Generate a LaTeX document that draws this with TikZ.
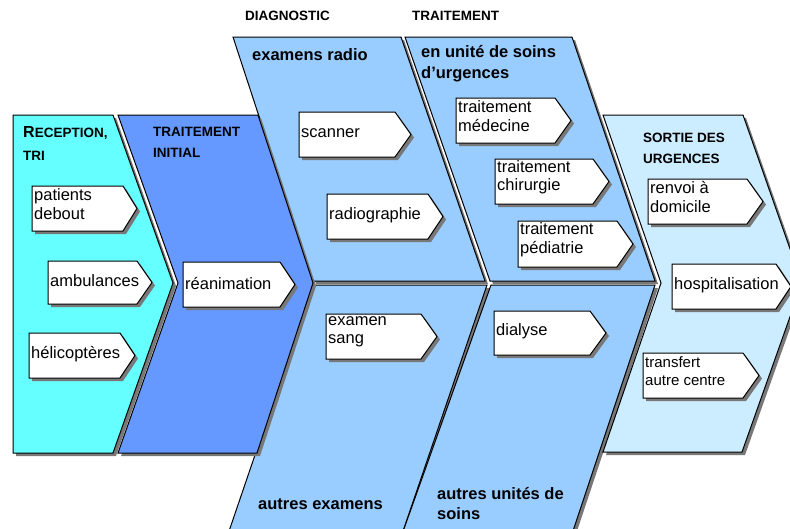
\documentclass[tikz,border=0pt]{standalone}
\usepackage{fontspec}
\setmainfont{Liberation Sans}
\usetikzlibrary{calc}
\definecolor{cA}{RGB}{102,255,255}
\definecolor{cB}{RGB}{102,153,255}
\definecolor{cC}{RGB}{153,204,255}
\definecolor{cE}{RGB}{204,236,255}
\definecolor{shd}{RGB}{120,120,120}
\tikzset{
  shadowfill/.style={fill=shd,shift={(3,3)}},
  bandline/.style={draw=black,line width=1pt},
  itemtext/.style={anchor=west,inner sep=0pt,align=left,yshift=1.5pt,font=\fontsize{16.5}{18.5}\selectfont},
  twoline/.style={itemtext,yshift=3pt},
  smalltext/.style={itemtext,yshift=3pt,font=\fontsize{15}{18}\selectfont},
  hdr/.style={anchor=base west,inner sep=0pt,font=\bfseries\fontsize{13.5}{16}\selectfont},
  bighdr/.style={anchor=base west,inner sep=0pt,font=\bfseries\fontsize{16.5}{19}\selectfont}
}
\newcommand\bandshape[2]{%
  \fill[shadowfill] #2 -- cycle;
  \draw[bandline,fill=#1] #2 -- cycle;
}
\newcommand\itembox[8]{%
  \fill[shadowfill] (#2,#3) -- (#4,#3) -- (#5,{(#3+#6)/2}) -- (#4,#6) -- (#2,#6) -- cycle;
  \draw[fill=white,line width=1pt] (#2,#3) -- (#4,#3) -- (#5,{(#3+#6)/2}) -- (#4,#6) -- (#2,#6) -- cycle;
  \node[#7] (#1) at (#2+2,{(#3+#6)/2}) {#8};
}
\begin{document}
\begin{tikzpicture}[x=1pt,y=-1pt]
\useasboundingbox (0,0) rectangle (790,528);
\clip (0,0) rectangle (790,528);
\fill[white] (0,0) rectangle (790,528);
% diagnostic bands
\bandshape{cC}{(233,37) -- (401,37) -- (485,281) -- (313,281)}
\bandshape{cC}{(313,285) -- (487,285) -- (400,540) -- (226,540)}
% traitement bands
\bandshape{cC}{(405,37) -- (572,37) -- (655,281) -- (490,281)}
\bandshape{cC}{(491,285) -- (655,285) -- (570,540) -- (400,540)}
% sortie
\bandshape{cE}{(603,115) -- (743,115) -- (802,283) -- (742,452) -- (603,452) -- (661,283)}
% reception
\bandshape{cA}{(13,115) -- (113,115) -- (173,283) -- (113,453) -- (13,453)}
% traitement initial
\bandshape{cB}{(118,115) -- (258,115) -- (313,283) -- (257,453) -- (118,453) -- (178,283)}

% headers
\node[hdr] (diag) at (245,20) {DIAGNOSTIC};
\node[hdr] (trait) at (412,20) {TRAITEMENT};
\node[hdr] (rec1) at (23,137) {{\fontsize{16}{16}\selectfont R}ECEPTION,};
\node[hdr] (rec2) at (23,160) {TRI};
\node[hdr] (ti1) at (153,136) {TRAITEMENT};
\node[hdr] (ti2) at (153,157) {INITIAL};
\node[hdr] (so1) at (643,142) {SORTIE DES};
\node[hdr] (so2) at (643,163) {URGENCES};
\node[bighdr] (exr) at (252,60) {examens radio};
\node[bighdr] (eu1) at (421,57) {en unité de soins};
\node[bighdr] (eu2) at (421,78) {d’urgences};
\node[bighdr] (aex) at (258,509) {autres examens};
\node[bighdr] (au1) at (437,499) {autres unités de};
\node[bighdr] (au2) at (437,519) {soins};

% items
\itembox{pat}{32}{186}{123}{137}{231}{twoline}{patients\\debout}
\itembox{amb}{48}{261}{137}{152}{304}{itemtext}{ambulances}
\itembox{hel}{29}{333}{120}{135}{378}{itemtext}{hélicoptères}
\itembox{rea}{183}{262}{280}{295}{307}{itemtext}{réanimation}
\itembox{sca}{299}{112}{395}{411}{157}{itemtext}{scanner}
\itembox{rad}{327}{194}{428}{443}{239}{itemtext}{radiographie}
\itembox{exs}{326}{314}{421}{437}{359}{twoline}{examen\\sang}
\itembox{tme}{456}{98}{555}{571}{143}{twoline}{traitement\\médecine}
\itembox{tch}{495}{159}{593}{609}{204}{twoline}{traitement\\chirurgie}
\itembox{tpe}{518}{221}{617}{633}{267}{twoline}{traitement\\pédiatrie}
\itembox{dia}{494}{311}{590}{606}{355}{itemtext}{dialyse}
\itembox{ren}{648}{179}{747}{763}{224}{twoline}{renvoi à\\domicile}
\itembox{hos}{672}{264}{776}{791}{309}{itemtext}{hospitalisation}
\itembox{tra}{643}{353}{743}{759}{398}{smalltext}{transfert\\autre centre}
\end{tikzpicture}
\end{document}
